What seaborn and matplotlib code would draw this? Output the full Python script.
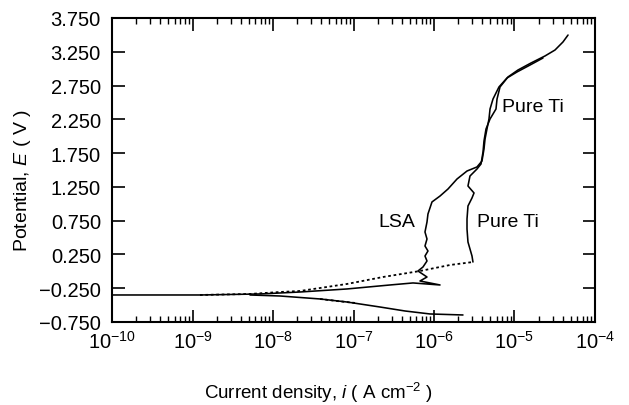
import numpy as np
import pandas as pd
import matplotlib
matplotlib.use("Agg")
import matplotlib.pyplot as plt
import matplotlib.ticker as mticker
import seaborn as sns

# ---- data (log10 current density, potential in V) ----
lsa_logi = [-10.0, -8.907, -8.161, -7.665, -7.081, -6.547, -6.261, -5.925, -6.174, -6.087,
            -6.199, -6.137, -6.087, -6.112, -6.075, -6.112, -6.087, -6.112, -6.087, -6.075,
            -6.025, -5.925, -5.826, -5.714, -5.590, -5.466, -5.404, -5.379, -5.366, -5.342,
            -5.317, -5.304, -5.267, -5.193, -5.093, -4.969, -4.807, -4.646]
lsa_E = [-0.350, -0.350, -0.335, -0.306, -0.261, -0.202, -0.172, -0.202, -0.143, -0.084,
         0.005, 0.064, 0.153, 0.227, 0.301, 0.375, 0.479, 0.582, 0.730, 0.849,
         1.027, 1.115, 1.219, 1.367, 1.485, 1.545, 1.633, 1.811, 1.959, 2.107,
         2.255, 2.403, 2.551, 2.729, 2.862, 2.951, 3.054, 3.158]

ti_logi = [-5.516, -5.528, -5.553, -5.578, -5.590, -5.590, -5.578, -5.528, -5.503, -5.578,
           -5.553, -5.466, -5.416, -5.391, -5.379, -5.354, -5.304, -5.230, -5.217, -5.180,
           -5.081, -4.957, -4.795, -4.621, -4.497, -4.398, -4.335]
ti_E = [0.138, 0.227, 0.331, 0.434, 0.627, 0.775, 0.967, 1.086, 1.160, 1.263,
        1.411, 1.515, 1.589, 1.767, 1.929, 2.107, 2.255, 2.403, 2.551, 2.729,
        2.877, 2.980, 3.084, 3.188, 3.276, 3.395, 3.498]

ti_dot_logi = [-8.907, -8.286, -7.913, -7.665, -7.081, -6.634, -6.174, -5.801, -5.516]
ti_dot_E = [-0.350, -0.335, -0.306, -0.291, -0.187, -0.084, 0.005, 0.094, 0.138]

cath_logi = [-8.286, -7.913, -7.416, -7.081, -6.671, -6.360, -6.050, -5.640]
cath_E = [-0.350, -0.365, -0.409, -0.454, -0.528, -0.587, -0.631, -0.646]

cath_dot_logi = [-7.416, -7.20, -6.981]
cath_dot_E = [-0.409, -0.440, -0.468]

y_ticks = [-0.75, -0.25, 0.25, 0.75, 1.25, 1.75, 2.25, 2.75, 3.25, 3.75]
y_labels = ["\u22120.750", "\u22120.250", "0.250", "0.750", "1.250", "1.750",
            "2.250", "2.750", "3.250", "3.750"]
x_exps = [-10, -9, -8, -7, -6, -5, -4]

# ---- style ----
sns.set_style("ticks")
plt.rcParams["font.family"] = ["Liberation Sans", "DejaVu Sans"]
plt.rcParams["mathtext.fontset"] = "custom"
plt.rcParams["mathtext.rm"] = "Liberation Sans"
plt.rcParams["mathtext.it"] = "Liberation Sans:italic"
plt.rcParams["mathtext.bf"] = "Liberation Sans:bold"
plt.rcParams["text.color"] = "black"
plt.rcParams["axes.labelcolor"] = "black"
plt.rcParams["xtick.color"] = "black"
plt.rcParams["ytick.color"] = "black"

fig = plt.figure(figsize=(6.29, 4.06), dpi=100)
ax = fig.add_axes([112/629, 1-323/406, (595-112)/629, (323-19)/406])

def draw(lx, ey, ls, lw=1.15):
    df = pd.DataFrame({"i": np.power(10.0, lx), "E": ey})
    sns.lineplot(data=df, x="i", y="E", sort=False, estimator=None, color="black",
                 linestyle=ls, linewidth=lw, ax=ax)

draw(lsa_logi, lsa_E, "-")
draw(ti_logi, ti_E, "-")
draw(cath_logi, cath_E, "-")
draw(ti_dot_logi, ti_dot_E, (0, (1.5, 1.5)), 1.3)
draw(cath_dot_logi, cath_dot_E, (0, (1.5, 1.5)), 1.3)

ax.set_xscale("log")
ax.set_xlim(1e-10, 1e-4)
ax.set_ylim(-0.75, 3.75)

ax.xaxis.set_major_locator(mticker.FixedLocator([10.0**e for e in x_exps]))
ax.set_xticklabels([r"$\mathregular{10^{%d}}$" % e for e in x_exps])
ax.xaxis.set_minor_locator(mticker.LogLocator(base=10, subs=np.arange(2, 10), numticks=20))
ax.xaxis.set_minor_formatter(mticker.NullFormatter())
ax.set_yticks(y_ticks)
ax.set_yticklabels(y_labels)

ax.tick_params(axis="both", which="major", direction="in", length=9, width=1.2,
               top=True, right=True, labelsize=14.5, color="black", labelcolor="black")
ax.tick_params(axis="y", which="major", pad=8)
ax.tick_params(axis="x", which="major", pad=6)
ax.tick_params(axis="x", which="minor", direction="in", length=4, width=1.0,
               top=True, bottom=True)
for s in ax.spines.values():
    s.set_linewidth(1.5)
    s.set_color("black")

ax.set_xlabel(r"Current density, $i$ ( A cm$^{-2}$ )", fontsize=13.5, color="black")
ax.set_ylabel(r"Potential, $E$ ( V )", fontsize=14, color="black")
ax.xaxis.set_label_coords((319-112)/483, -0.19)
ax.yaxis.set_label_coords(-0.163, 0.47)

ax.text(10**-6.46, 0.745, "LSA", fontsize=14, ha="center", va="center", color="black")
ax.text(10**-5.466, 0.745, "Pure Ti", fontsize=14, ha="left", va="center", color="black")
ax.text(10**-5.15, 2.433, "Pure Ti", fontsize=14, ha="left", va="center", color="black")

fig.savefig("out.png", dpi=100)
